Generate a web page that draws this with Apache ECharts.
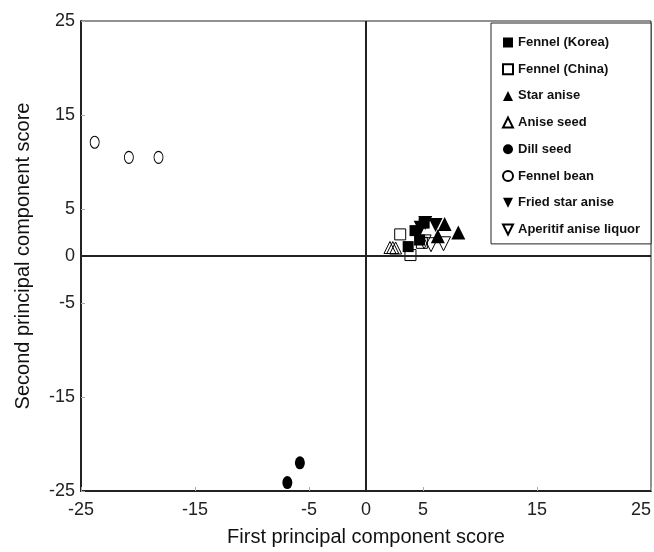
<!DOCTYPE html>
<html lang="en">
<head>
    <meta charset="UTF-8">
    <script src="https://cdn.jsdelivr.net/npm/echarts@6/dist/echarts.min.js"></script>
    <title>PCA scores</title>
</head>
<body style="margin:0">
    <div id="main" style="width: 654px;height:552px;"></div>

    <script type="text/javascript">
        // PCA scores
        var fennelKorea = [[3.7, 1.0], [4.3, 2.7], [4.7, 1.7], [5.1, 3.5]];
        var fennelChina = [[3.0, 2.3], [3.9, 0.1], [4.9, 1.4]];
        var starAnise = [[6.9, 3.4], [8.1, 2.5], [6.3, 2.1]];
        var aniseSeed = [[2.1, 0.9], [2.35, 0.9], [2.6, 0.85]];
        var dillSeed = [[-5.8, -22.0], [-6.9, -24.1]];
        var fennelBean = [[-23.8, 12.1], [-20.8, 10.5], [-18.2, 10.5]];
        var friedStarAnise = [[5.2, 3.5], [6.1, 3.3], [4.8, 3.0]];
        var aperitif = [[5.7, 1.2], [6.8, 1.3], [5.1, 1.5]];

        var tickValues = [-25, -15, -5, 0, 5, 15, 25];

        var myChart = echarts.init(document.getElementById('main'));

        var filled = { color: '#000', opacity: 1 };
        // open marks: outline only, so overlapping ones show through
        var open = { color: 'rgba(255,255,255,0)', borderColor: '#000', borderWidth: 1, opacity: 1 };
        var downTri = 'path://M0,0L10,0L5,10Z';

        var option = {
            backgroundColor: '#fff',
            animation: false,
            textStyle: { fontFamily: 'Liberation Sans' },
            grid: {
                left: 81, right: 1, top: 21, bottom: 59,
                show: true, borderColor: '#222', borderWidth: 1
            },
            xAxis: {
                type: 'value', min: -25, max: 25,
                name: 'First principal component score',
                nameLocation: 'middle', nameGap: 36,
                nameTextStyle: { fontSize: 20, color: '#111' },
                axisLine: { onZero: false, lineStyle: { color: '#222', width: 2 } },
                axisTick: { inside: true, length: 4, customValues: tickValues, lineStyle: { color: '#aaa' } },
                axisLabel: { customValues: tickValues, fontSize: 18, color: '#222', margin: 10, alignMaxLabel: 'right' },
                splitLine: { show: false }
            },
            yAxis: {
                type: 'value', min: -25, max: 25,
                name: 'Second principal component score',
                nameLocation: 'middle', nameGap: 48,
                nameTextStyle: { fontSize: 20, color: '#111' },
                axisLine: { onZero: false, lineStyle: { color: '#222', width: 2 } },
                axisTick: { inside: true, length: 4, customValues: tickValues, lineStyle: { color: '#aaa' } },
                axisLabel: { customValues: tickValues, fontSize: 18, color: '#222', margin: 6 },
                splitLine: { show: false }
            },
            legend: {
                orient: 'vertical',
                left: 491, top: 23,
                padding: [13, 11, 8, 11],
                backgroundColor: '#fff',
                borderColor: '#222', borderWidth: 1,
                itemWidth: 10, itemHeight: 10, itemGap: 13.7,
                textStyle: { fontSize: 13, lineHeight: 12, fontWeight: 'bold', color: '#111' },
                data: ['Fennel (Korea)', 'Fennel (China)', 'Star anise', 'Anise seed',
                    'Dill seed', 'Fennel bean',
                    { name: 'Fried star anise', icon: downTri },
                    { name: 'Aperitif anise liquor', icon: downTri }]
            },
            series: [
                {
                    name: 'Fennel (Korea)', type: 'scatter', data: fennelKorea,
                    symbol: 'rect', symbolSize: 11, itemStyle: filled, z: 3,
                    markLine: {
                        silent: true, symbol: 'none', label: { show: false },
                        lineStyle: { color: '#222', width: 2, type: 'solid' },
                        data: [{ xAxis: 0 }, { yAxis: 0 }]
                    }
                },
                { name: 'Fennel (China)', type: 'scatter', data: fennelChina, symbol: 'rect', symbolSize: 11, itemStyle: open },
                { name: 'Star anise', type: 'scatter', data: starAnise, symbol: 'triangle', symbolSize: 14, itemStyle: filled },
                { name: 'Anise seed', type: 'scatter', data: aniseSeed, symbol: 'triangle', symbolSize: 12, itemStyle: open },
                { name: 'Dill seed', type: 'scatter', data: dillSeed, symbol: 'circle', symbolSize: [10, 13], itemStyle: filled },
                { name: 'Fennel bean', type: 'scatter', data: fennelBean, symbol: 'circle', symbolSize: [9, 12], itemStyle: open },
                { name: 'Fried star anise', type: 'scatter', data: friedStarAnise, symbol: 'triangle', symbolRotate: 180, symbolSize: 14, itemStyle: filled },
                { name: 'Aperitif anise liquor', type: 'scatter', data: aperitif, symbol: 'triangle', symbolRotate: 180, symbolSize: 14, itemStyle: open }
            ]
        };
        myChart.setOption(option);
    </script>
</body>
</html>
